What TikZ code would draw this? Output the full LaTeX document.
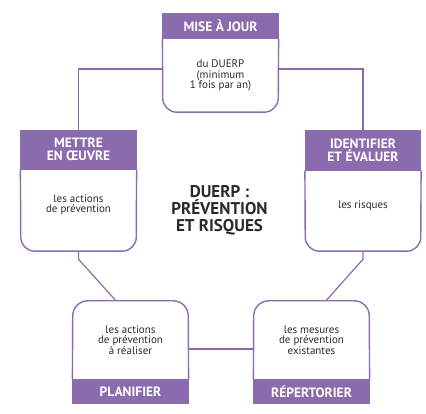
\documentclass[tikz,border=0pt]{standalone}
\usepackage{fontspec}
\setmainfont{PT Sans}
\usetikzlibrary{positioning}
\definecolor{lilac}{HTML}{8A6BAD}
\definecolor{ink}{HTML}{2A2A2A}
\tikzset{
  headbox/.style={fill=lilac, draw=lilac, line width=1.2pt, text=white, inner sep=0pt, align=center,
    minimum width=115pt, font=\bfseries\fontsize{13.5}{13}\selectfont},
  bodybox/.style={inner sep=0pt, align=center, minimum width=115pt, text=ink,
    font=\fontsize{11}{10.5}\selectfont},
  frame/.style={draw=lilac, line width=1.4pt, rounded corners=14pt},
  link/.style={draw=lilac, line width=1.2pt},
  bigtitle/.style={font=\bfseries\fontsize{17}{17}\selectfont, text=ink, align=center}
}

\begin{document}
\begin{tikzpicture}[x=1pt,y=1pt]
\useasboundingbox (0,0) rectangle (426,414);

% boxes
\node[bodybox, minimum height=73pt] (majbody) at (220.5,338.5) {du DUERP\\(minimum\\1 fois par an)};
\node[headbox, minimum height=25pt, anchor=south] (majhead) at (majbody.north) {MISE À JOUR};

\node[bodybox, minimum height=81pt] (mettrebody) at (78.5,203.5) {les actions\\de prévention\\[3pt]};
\node[headbox, minimum height=39pt, anchor=south] (mettrehead) at (mettrebody.north) {METTRE\\EN ŒUVRE};

\node[bodybox, minimum height=80pt] (identbody) at (363,203) {les risques\\[3pt]};
\node[headbox, minimum height=40pt, anchor=south] (identhead) at (identbody.north) {IDENTIFIER\\ET ÉVALUER};

\node[bodybox, minimum height=78pt] (planbody) at (130.5,74) {les actions\\de prévention\\à réaliser};
\node[headbox, minimum height=24pt, anchor=north] (planfoot) at (planbody.south) {PLANIFIER};

\node[bodybox, minimum height=78pt] (reperbody) at (311.5,74) {les mesures\\de prévention\\existantes};
\node[headbox, minimum height=24pt, anchor=north] (reperfoot) at (reperbody.south) {RÉPERTORIER};

\node[bigtitle] (titre) at (219.5,204) {DUERP :\\PRÉVENTION\\ET RISQUES};

% outlines
\draw[frame] (majhead.south west) -- (majbody.south west) -- (majbody.south east) -- (majhead.south east);
\draw[frame] (mettrehead.south west) -- (mettrebody.south west) -- (mettrebody.south east) -- (mettrehead.south east);
\draw[frame] (identhead.south west) -- (identbody.south west) -- (identbody.south east) -- (identhead.south east);
\draw[frame, rounded corners=15pt] (planfoot.north west) -- (planbody.north west) -- (planbody.north east) -- (planfoot.north east);
\draw[frame, rounded corners=15pt] (reperfoot.north west) -- (reperbody.north west) -- (reperbody.north east) -- (reperfoot.north east);

% connectors
\coordinate (majL) at ([yshift=6.5pt]majbody.west);
\coordinate (majR) at ([yshift=6.5pt]majbody.east);
\coordinate (planT) at ([xshift=-14.5pt]planbody.north);
\coordinate (reperT) at ([xshift=14.5pt]reperbody.north);
\draw[link] (majL) -| (mettrehead.north);
\draw[link] (majR) -| (identhead.north);
\draw[link] (mettrebody.south) -- ++(0,-8) -- (planT);
\draw[link] (identbody.south) -- ++(0,-8) -- (reperT);
\draw[link] ([yshift=-9pt]planbody.east) -- ([yshift=-9pt]reperbody.west);
\end{tikzpicture}
\end{document}
